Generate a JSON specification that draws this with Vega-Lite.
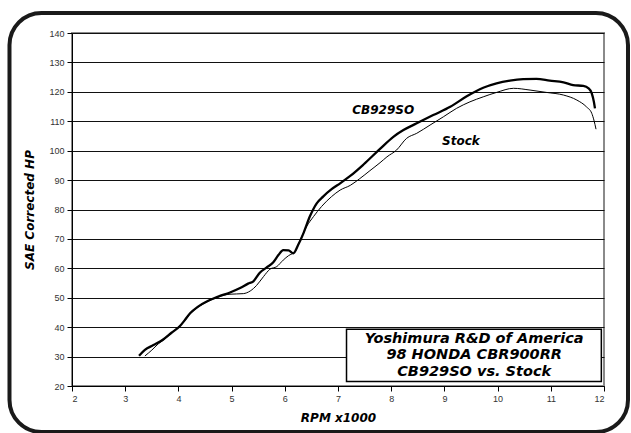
{
  "$schema": "https://vega.github.io/schema/vega-lite/v6.json",
  "width": 532,
  "height": 353,
  "autosize": {"type": "none"},
  "padding": {"left": 72, "top": 33, "right": 27, "bottom": 47},
  "background": "white",
  "config": {
    "view": {"stroke": "#8a8a8a", "strokeWidth": 2},
    "font": "Liberation Sans"
  },
  "data": {
    "values": [
      {"rpm": 3.26, "hp": 30.3, "series": "CB929SO"},
      {"rpm": 3.37, "hp": 32.3, "series": "CB929SO"},
      {"rpm": 3.53, "hp": 33.9, "series": "CB929SO"},
      {"rpm": 3.72, "hp": 35.9, "series": "CB929SO"},
      {"rpm": 3.87, "hp": 38.1, "series": "CB929SO"},
      {"rpm": 4.03, "hp": 40.4, "series": "CB929SO"},
      {"rpm": 4.12, "hp": 42.4, "series": "CB929SO"},
      {"rpm": 4.22, "hp": 44.7, "series": "CB929SO"},
      {"rpm": 4.37, "hp": 47.0, "series": "CB929SO"},
      {"rpm": 4.56, "hp": 49.0, "series": "CB929SO"},
      {"rpm": 4.75, "hp": 50.4, "series": "CB929SO"},
      {"rpm": 4.97, "hp": 51.8, "series": "CB929SO"},
      {"rpm": 5.16, "hp": 53.3, "series": "CB929SO"},
      {"rpm": 5.31, "hp": 54.8, "series": "CB929SO"},
      {"rpm": 5.41, "hp": 55.6, "series": "CB929SO"},
      {"rpm": 5.53, "hp": 58.5, "series": "CB929SO"},
      {"rpm": 5.66, "hp": 60.3, "series": "CB929SO"},
      {"rpm": 5.78, "hp": 62.0, "series": "CB929SO"},
      {"rpm": 5.88, "hp": 64.5, "series": "CB929SO"},
      {"rpm": 5.97, "hp": 66.2, "series": "CB929SO"},
      {"rpm": 6.07, "hp": 66.1, "series": "CB929SO"},
      {"rpm": 6.16, "hp": 65.1, "series": "CB929SO"},
      {"rpm": 6.25, "hp": 67.9, "series": "CB929SO"},
      {"rpm": 6.35, "hp": 71.9, "series": "CB929SO"},
      {"rpm": 6.47, "hp": 77.6, "series": "CB929SO"},
      {"rpm": 6.60, "hp": 82.1, "series": "CB929SO"},
      {"rpm": 6.72, "hp": 84.4, "series": "CB929SO"},
      {"rpm": 6.88, "hp": 86.9, "series": "CB929SO"},
      {"rpm": 7.04, "hp": 88.9, "series": "CB929SO"},
      {"rpm": 7.23, "hp": 91.4, "series": "CB929SO"},
      {"rpm": 7.48, "hp": 95.3, "series": "CB929SO"},
      {"rpm": 7.79, "hp": 100.6, "series": "CB929SO"},
      {"rpm": 8.04, "hp": 104.7, "series": "CB929SO"},
      {"rpm": 8.23, "hp": 107.0, "series": "CB929SO"},
      {"rpm": 8.48, "hp": 109.3, "series": "CB929SO"},
      {"rpm": 8.79, "hp": 112.1, "series": "CB929SO"},
      {"rpm": 9.11, "hp": 114.9, "series": "CB929SO"},
      {"rpm": 9.42, "hp": 118.5, "series": "CB929SO"},
      {"rpm": 9.73, "hp": 121.4, "series": "CB929SO"},
      {"rpm": 9.98, "hp": 122.9, "series": "CB929SO"},
      {"rpm": 10.23, "hp": 123.8, "series": "CB929SO"},
      {"rpm": 10.48, "hp": 124.3, "series": "CB929SO"},
      {"rpm": 10.73, "hp": 124.4, "series": "CB929SO"},
      {"rpm": 10.98, "hp": 123.8, "series": "CB929SO"},
      {"rpm": 11.24, "hp": 123.2, "series": "CB929SO"},
      {"rpm": 11.42, "hp": 122.3, "series": "CB929SO"},
      {"rpm": 11.61, "hp": 122.0, "series": "CB929SO"},
      {"rpm": 11.71, "hp": 121.2, "series": "CB929SO"},
      {"rpm": 11.77, "hp": 119.5, "series": "CB929SO"},
      {"rpm": 11.81, "hp": 116.6, "series": "CB929SO"},
      {"rpm": 11.83, "hp": 114.4, "series": "CB929SO"},
      {"rpm": 3.37, "hp": 30.2, "series": "Stock"},
      {"rpm": 3.50, "hp": 32.2, "series": "Stock"},
      {"rpm": 3.62, "hp": 34.3, "series": "Stock"},
      {"rpm": 3.72, "hp": 35.6, "series": "Stock"},
      {"rpm": 3.87, "hp": 38.0, "series": "Stock"},
      {"rpm": 4.03, "hp": 40.6, "series": "Stock"},
      {"rpm": 4.12, "hp": 42.2, "series": "Stock"},
      {"rpm": 4.22, "hp": 44.5, "series": "Stock"},
      {"rpm": 4.37, "hp": 46.8, "series": "Stock"},
      {"rpm": 4.56, "hp": 48.8, "series": "Stock"},
      {"rpm": 4.75, "hp": 50.3, "series": "Stock"},
      {"rpm": 4.97, "hp": 51.2, "series": "Stock"},
      {"rpm": 5.22, "hp": 51.4, "series": "Stock"},
      {"rpm": 5.35, "hp": 52.3, "series": "Stock"},
      {"rpm": 5.47, "hp": 54.2, "series": "Stock"},
      {"rpm": 5.60, "hp": 57.2, "series": "Stock"},
      {"rpm": 5.72, "hp": 59.7, "series": "Stock"},
      {"rpm": 5.85, "hp": 60.6, "series": "Stock"},
      {"rpm": 5.97, "hp": 62.8, "series": "Stock"},
      {"rpm": 6.07, "hp": 64.3, "series": "Stock"},
      {"rpm": 6.19, "hp": 65.7, "series": "Stock"},
      {"rpm": 6.29, "hp": 69.6, "series": "Stock"},
      {"rpm": 6.41, "hp": 74.2, "series": "Stock"},
      {"rpm": 6.54, "hp": 77.6, "series": "Stock"},
      {"rpm": 6.69, "hp": 81.0, "series": "Stock"},
      {"rpm": 6.88, "hp": 84.4, "series": "Stock"},
      {"rpm": 7.04, "hp": 86.6, "series": "Stock"},
      {"rpm": 7.23, "hp": 88.2, "series": "Stock"},
      {"rpm": 7.41, "hp": 90.5, "series": "Stock"},
      {"rpm": 7.60, "hp": 93.2, "series": "Stock"},
      {"rpm": 7.79, "hp": 95.9, "series": "Stock"},
      {"rpm": 7.92, "hp": 97.9, "series": "Stock"},
      {"rpm": 8.10, "hp": 100.2, "series": "Stock"},
      {"rpm": 8.29, "hp": 104.2, "series": "Stock"},
      {"rpm": 8.48, "hp": 105.9, "series": "Stock"},
      {"rpm": 8.73, "hp": 108.7, "series": "Stock"},
      {"rpm": 8.98, "hp": 111.5, "series": "Stock"},
      {"rpm": 9.23, "hp": 114.4, "series": "Stock"},
      {"rpm": 9.48, "hp": 116.6, "series": "Stock"},
      {"rpm": 9.73, "hp": 118.3, "series": "Stock"},
      {"rpm": 9.98, "hp": 119.8, "series": "Stock"},
      {"rpm": 10.30, "hp": 121.2, "series": "Stock"},
      {"rpm": 10.61, "hp": 120.6, "series": "Stock"},
      {"rpm": 10.92, "hp": 119.8, "series": "Stock"},
      {"rpm": 11.24, "hp": 118.9, "series": "Stock"},
      {"rpm": 11.49, "hp": 117.2, "series": "Stock"},
      {"rpm": 11.67, "hp": 114.9, "series": "Stock"},
      {"rpm": 11.77, "hp": 112.7, "series": "Stock"},
      {"rpm": 11.81, "hp": 110.4, "series": "Stock"},
      {"rpm": 11.85, "hp": 107.3, "series": "Stock"}
    ]
  },
  "encoding": {
    "x": {
      "type": "quantitative",
      "scale": {"domain": [2, 12], "nice": false, "zero": false},
      "axis": {
        "title": "RPM x1000",
        "values": [2, 3, 4, 5, 6, 7, 8, 9, 10, 11, 12],
        "grid": false,
        "domainColor": "black",
        "tickColor": "black",
        "tickSize": 5,
        "labelFontSize": 9,
        "labelColor": "#333",
        "labelPadding": 3,
        "titleFont": "DejaVu Sans",
        "titleFontStyle": "italic",
        "titleFontWeight": "bold",
        "titleFontSize": 12,
        "titleColor": "black",
        "titlePadding": 9
      }
    },
    "y": {
      "type": "quantitative",
      "scale": {"domain": [20, 140], "nice": false, "zero": false},
      "axis": {
        "title": "SAE Corrected HP",
        "values": [20, 30, 40, 50, 60, 70, 80, 90, 100, 110, 120, 130, 140],
        "grid": true,
        "gridColor": "#111",
        "gridWidth": 1,
        "gridOpacity": 1,
        "domainColor": "black",
        "tickColor": "black",
        "tickSize": 5,
        "labelFontSize": 9,
        "labelColor": "#333",
        "labelPadding": 3,
        "titleFont": "DejaVu Sans",
        "titleFontStyle": "italic",
        "titleFontWeight": "bold",
        "titleFontSize": 12,
        "titleColor": "black",
        "titlePadding": 12
      }
    }
  },
  "layer": [
    {
      "data": {"values": [{}]},
      "mark": {"type": "rect", "fill": null, "stroke": "#1a1a1a", "strokeWidth": 4, "cornerRadius": 32, "clip": false},
      "encoding": {
        "x": {"datum": 0.825},
        "x2": {"datum": 12.451},
        "y": {"datum": 4.36},
        "y2": {"datum": 146.8}
      }
    },
    {
      "mark": {"type": "line", "interpolate": "monotone", "color": "black"},
      "encoding": {
        "x": {"field": "rpm"},
        "y": {"field": "hp"},
        "detail": {"field": "series"},
        "strokeWidth": {
          "field": "series",
          "type": "nominal",
          "scale": {"domain": ["CB929SO", "Stock"], "range": [2.3, 1]},
          "legend": null
        }
      }
    },
    {
      "data": {"values": [{}]},
      "mark": {"type": "text", "text": "CB929SO", "font": "DejaVu Sans", "fontStyle": "italic", "fontWeight": "bold", "fontSize": 12, "align": "center", "baseline": "middle", "color": "black"},
      "encoding": {"x": {"datum": 7.85}, "y": {"datum": 113.8}}
    },
    {
      "data": {"values": [{}]},
      "mark": {"type": "text", "text": "Stock", "font": "DejaVu Sans", "fontStyle": "italic", "fontWeight": "bold", "fontSize": 12, "align": "center", "baseline": "middle", "color": "black"},
      "encoding": {"x": {"datum": 9.31}, "y": {"datum": 103.3}}
    },
    {
      "data": {"values": [{}]},
      "mark": {"type": "rect", "fill": "white", "stroke": "black", "strokeWidth": 1.5},
      "encoding": {
        "x": {"datum": 7.16},
        "x2": {"datum": 11.95},
        "y": {"datum": 21.5},
        "y2": {"datum": 39.3}
      }
    },
    {
      "data": {"values": [{}]},
      "mark": {"type": "text", "text": "Yoshimura R&D of America", "font": "DejaVu Sans", "fontStyle": "italic", "fontWeight": "bold", "fontSize": 14.5, "align": "center", "baseline": "middle", "color": "black"},
      "encoding": {"x": {"datum": 9.56}, "y": {"datum": 35.9}}
    },
    {
      "data": {"values": [{}]},
      "mark": {"type": "text", "text": "98 HONDA CBR900RR", "font": "DejaVu Sans", "fontStyle": "italic", "fontWeight": "bold", "fontSize": 14.5, "align": "center", "baseline": "middle", "color": "black"},
      "encoding": {"x": {"datum": 9.56}, "y": {"datum": 30.4}}
    },
    {
      "data": {"values": [{}]},
      "mark": {"type": "text", "text": "CB929SO vs. Stock", "font": "DejaVu Sans", "fontStyle": "italic", "fontWeight": "bold", "fontSize": 14.5, "align": "center", "baseline": "middle", "color": "black"},
      "encoding": {"x": {"datum": 9.56}, "y": {"datum": 24.9}}
    }
  ]
}
